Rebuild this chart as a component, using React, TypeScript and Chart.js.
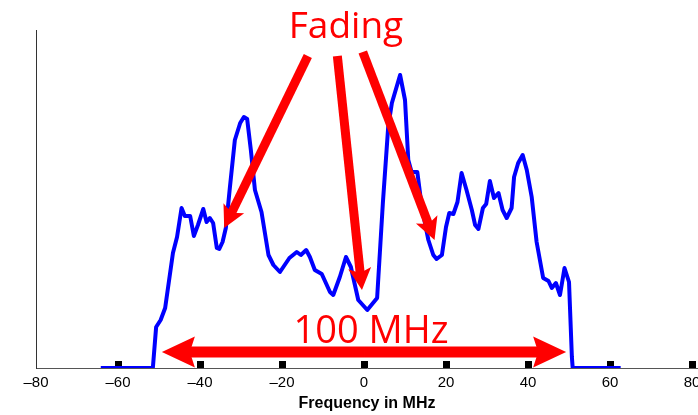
import React, { useEffect, useRef } from 'react';
import { Chart, registerables } from 'chart.js';

Chart.register(...registerables);

// Spectrum trace (frequency in MHz, relative level in arbitrary units)
const FREQ = [
  -64.2, -51.5, -50.7, -49.6, -48.5, -46.6, -45.6, -44.5, -43.7, -42.4,
  -41.5, -40.5, -39.2, -38.4, -37.6, -36.8, -35.9, -35.3, -34.5, -33.7,
  -32.7, -31.5, -30.2, -29.3, -28.5, -27.6, -26.6, -25.0, -23.3, -22.1,
  -20.5, -18.2, -16.4, -15.4, -14.1, -13.2, -12.0, -10.3, -8.3, -7.5,
  -5.9, -4.4, -3.2, -1.4, 0.8, 3.2, 4.6, 5.9, 6.8, 8.8,
  10.0, 10.8, 11.6, 13.0, 14.1, 15.7, 16.9, 17.7, 19.0, 20.0,
  20.8, 21.8, 22.8, 23.8, 25.0, 26.3, 27.1, 27.9, 29.0, 29.8,
  30.7, 31.7, 32.8, 33.8, 34.8, 36.0, 36.6, 37.6, 38.7, 39.7,
  40.9, 42.1, 43.7, 45.0, 45.8, 46.8, 47.8, 48.9, 50.0, 50.7,
  50.9, 62.6,
];
const LEVEL = [
  0, 0, 41, 48, 60, 115, 131, 160, 152, 152,
  132, 143, 159, 146, 150, 145, 120, 119, 126, 140,
  181, 228, 245, 251, 249, 218, 178, 156, 113, 103,
  96, 110, 116, 113, 118, 111, 98, 94, 76, 73,
  91, 111, 101, 68, 58, 70, 165, 241, 265, 293,
  268, 208, 196, 196, 161, 128, 113, 109, 113, 141,
  155, 154, 166, 195, 178, 158, 143, 139, 160, 164,
  187, 170, 175, 158, 150, 160, 191, 205, 213, 198,
  171, 126, 90, 87, 80, 85, 73, 100, 86, 11,
  0, 0,
];

const X_TICKS = [-80, -60, -40, -20, 0, 20, 40, 60, 80];
const MARKER_TICKS = [-60, -40, -20, 0, 20, 40, 60, 80];

// Annotations (in data coordinates: [frequency, level])
const FADING_LABEL = { text: 'Fading', at: [-4.4, 330] };
const FADING_ARROWS = [
  { from: [-13.7, 312], to: [-34.1, 140] },
  { from: [-6.5, 312], to: [-0.5, 78] },
  { from: [-0.3, 316], to: [17.2, 128] },
];
const BAND_LABEL = { text: '100 MHz', at: [1.7, 25] };
const BAND_ARROW = { from: -49.3, to: 49.3, level: 16 };

function drawArrow(ctx, x1, y1, x2, y2, width, headLen, headHalf, notch) {
  const dx = x2 - x1;
  const dy = y2 - y1;
  const len = Math.hypot(dx, dy);
  const ux = dx / len;
  const uy = dy / len;
  const nx = -uy;
  const ny = ux;
  const bx = x2 - ux * headLen;
  const by = y2 - uy * headLen;
  const mx = x2 - ux * (headLen - notch);
  const my = y2 - uy * (headLen - notch);
  ctx.beginPath();
  ctx.lineWidth = width;
  ctx.lineCap = 'butt';
  ctx.moveTo(x1, y1);
  ctx.lineTo(mx + ux * 1, my + uy * 1);
  ctx.stroke();
  ctx.beginPath();
  ctx.moveTo(x2, y2);
  ctx.lineTo(bx + nx * headHalf, by + ny * headHalf);
  ctx.lineTo(mx, my);
  ctx.lineTo(bx - nx * headHalf, by - ny * headHalf);
  ctx.closePath();
  ctx.fill();
}

const annotatePlugin = {
  id: 'annotate',
  beforeDatasetsDraw(chart) {
    const { ctx, scales } = chart;
    const x = scales.x;
    const y = scales.y;
    ctx.save();
    ctx.fillStyle = '#000';
    MARKER_TICKS.forEach((t) => {
      const px = x.getPixelForValue(t);
      ctx.fillRect(Math.round(px - 3.5), y.bottom - 7, 7, 7);
    });
    ctx.restore();
  },
  afterDatasetsDraw(chart) {
    const { ctx, scales } = chart;
    const x = scales.x;
    const y = scales.y;
    ctx.save();
    ctx.strokeStyle = '#ff0000';
    ctx.fillStyle = '#ff0000';
    FADING_ARROWS.forEach((a) => {
      drawArrow(
        ctx,
        x.getPixelForValue(a.from[0]), y.getPixelForValue(a.from[1]),
        x.getPixelForValue(a.to[0]), y.getPixelForValue(a.to[1]),
        9, 22, 11.5, 5
      );
    });
    const by = y.getPixelForValue(BAND_ARROW.level);
    const lx = x.getPixelForValue(BAND_ARROW.from);
    const rx = x.getPixelForValue(BAND_ARROW.to);
    const cx = (lx + rx) / 2;
    drawArrow(ctx, cx, by, lx, by, 11, 33, 15.5, 5);
    drawArrow(ctx, cx, by, rx, by, 11, 33, 15.5, 5);

    ctx.textAlign = 'center';
    ctx.textBaseline = 'alphabetic';
    ctx.font = '37px "Open Sans"';
    ctx.fillText(FADING_LABEL.text, x.getPixelForValue(FADING_LABEL.at[0]), y.getPixelForValue(FADING_LABEL.at[1]));
    ctx.font = '38px "Open Sans"';
    ctx.fillText(BAND_LABEL.text, x.getPixelForValue(BAND_LABEL.at[0]), y.getPixelForValue(BAND_LABEL.at[1]));
    ctx.restore();
  },
};

export default function App() {
  const canvasRef = useRef(null);

  useEffect(() => {
    const canvas = canvasRef.current;
    if (!canvas) return;
    const chart = new Chart(canvas, {
      type: 'line',
      data: {
        datasets: [
          {
            data: FREQ.map((f, i) => ({ x: f, y: LEVEL[i] })),
            borderColor: '#0000ff',
            borderWidth: 4,
            borderJoinStyle: 'round',
            pointRadius: 0,
            tension: 0,
            fill: false,
          },
        ],
      },
      options: {
        responsive: false,
        animation: false,
        devicePixelRatio: 1,
        layout: { padding: { left: 36, right: 0, top: 30, bottom: 0 } },
        plugins: {
          legend: { display: false },
          tooltip: { enabled: false },
        },
        scales: {
          x: {
            type: 'linear',
            min: -80,
            max: 81.46,
            grid: { display: false, drawTicks: false },
            border: { display: true, color: '#555', width: 1 },
            afterBuildTicks: (scale) => {
              scale.ticks = X_TICKS.map((v) => ({ value: v }));
            },
            afterFit: (scale) => {
              scale.paddingLeft = 0;
              scale.paddingRight = 0;
              scale.height = 47;
            },
            ticks: {
              padding: 6,
              color: '#000',
              font: { family: '"Liberation Sans", Arial, sans-serif', size: 15 },
              callback: (v) => (v < 0 ? '\u2013' + Math.abs(v) : String(v)),
              maxRotation: 0,
              autoSkip: false,
            },
            title: {
              display: true,
              text: 'Frequency in MHz',
              color: '#000',
              font: { family: '"Liberation Sans", Arial, sans-serif', size: 16, weight: 'bold' },
              padding: { top: 0, bottom: 2 },
            },
          },
          y: {
            type: 'linear',
            min: 0,
            max: 338,
            grid: { display: false, drawTicks: false },
            border: { display: true, color: '#333', width: 1 },
            ticks: { display: false },
          },
        },
      },
      plugins: [annotatePlugin],
    });
    return () => chart.destroy();
  }, []);

  return (
    <div style={{ position: 'fixed', left: 0, top: 0, width: 698, height: 415, background: '#fff' }}>
      <canvas ref={canvasRef} width={698} height={415} style={{ display: 'block' }} />
    </div>
  );
}
